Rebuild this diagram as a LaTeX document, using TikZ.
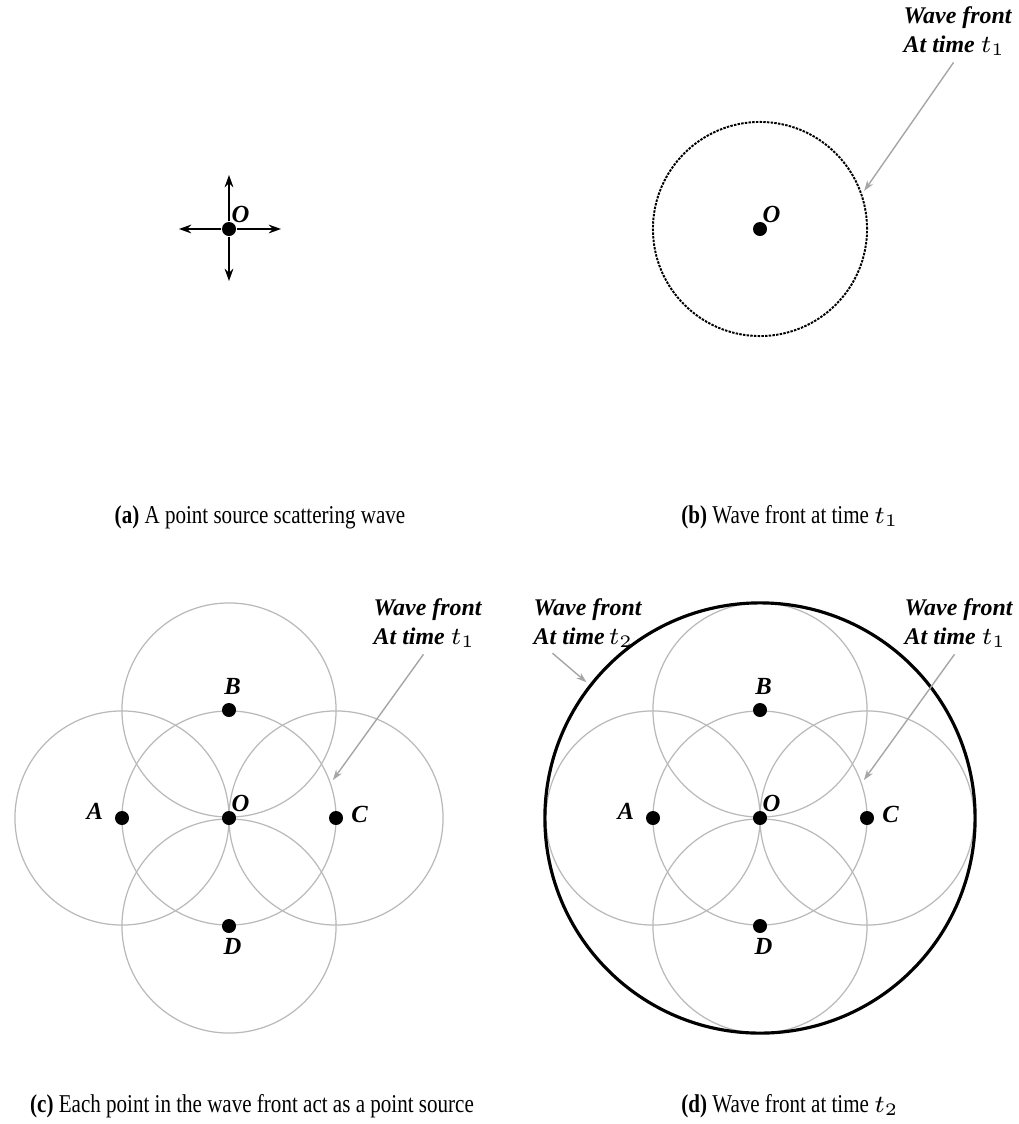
\documentclass[tikz,border=0pt]{standalone}
\usepackage{fontspec}
\setmainfont{Liberation Serif}
\newfontfamily\capfont[FakeStretch=0.82]{Liberation Serif}
\usetikzlibrary{positioning,arrows.meta}

\tikzset{
  point/.style={circle, fill=black, inner sep=0pt, minimum size=0.14cm},
  lettre/.style={font=\fontsize{7}{8}\selectfont\bfseries\itshape, inner sep=1pt},
  onde/.style={circle, draw=gray!55, line width=0.35pt, inner sep=0pt, minimum size=2.14cm},
  etiquette/.style={font=\fontsize{6.8}{8.2}\selectfont\bfseries\itshape, align=left, inner sep=0pt},
  fleche/.style={draw=gray!70, line width=0.4pt, -{Stealth[length=3pt,width=2pt]}, shorten <=2pt, shorten >=1pt},
  legende/.style={font=\capfont\fontsize{7.3}{8}\selectfont, inner sep=0pt}
}

\begin{document}
\begin{tikzpicture}[x=0.01cm, y=-0.01cm]
  \useasboundingbox (0,0) rectangle (1019,1124);

  % --- (a) source ponctuelle ---
  \node[point] (oa) at (229,229) {};
  \node[lettre, above right=-1pt and -2pt of oa] {O};
  \coordinate (ha) at (229,175);
  \coordinate (ba) at (229,281);
  \coordinate (ga) at (179,229);
  \coordinate (da) at (281,229);
  \foreach \bout in {ha,ba,ga,da}
    \draw[line width=0.5pt, -{Stealth[length=3.5pt,width=2.5pt]}] (oa) -- (\bout);
  \node[legende] (capa) at (260,517) {\textbf{(a)} A point source scattering wave};

  % --- (b) front d'onde au temps t1 ---
  \node[circle, draw, dash pattern=on 0.7pt off 0.35pt, line width=0.55pt, inner sep=0pt, minimum size=2.14cm] (frontb) at (760,229) {};
  \node[point] (ob) at (frontb.center) {};
  \node[lettre, above right=-1pt and -2pt of ob] {O};
  \node[etiquette, anchor=north west] (wfb) at (903,6) {Wave front\\At time $t_1$};
  \draw[fleche] (wfb.south) -- (frontb.19);
  \node[legende] (capb) at (790,517) {\textbf{(b)} Wave front at time $t_1$};

  % --- (c) chaque point est une source ---
  \coordinate (oc) at (229,818);
  \coordinate (ac) at (122,818);
  \coordinate (bc) at (229,710);
  \coordinate (cc) at (336,818);
  \coordinate (dc) at (229,926);
  \foreach \src in {oc,ac,bc,cc,dc}
    \node[onde] (f\src) at (\src) {};
  \foreach \src in {oc,ac,bc,cc,dc}
    \node[point] (p\src) at (\src) {};
  \node[lettre, above right=-1pt and -2pt of poc] {O};
  \node[lettre, left=2pt of pac, yshift=2pt] {A};
  \node[lettre, above=1pt of pbc, xshift=1pt] {B};
  \node[lettre, right=1pt of pcc, yshift=1pt] {C};
  \node[lettre, below=0pt of pdc, xshift=1pt] {D};
  \node[etiquette, anchor=north west] (wfc) at (373,598) {Wave front\\At time $t_1$};
  \draw[fleche] (wfc.south) -- (foc.19);
  \node[legende] (capc) at (252,1106) {\textbf{(c)} Each point in the wave front act as a point source};

  % --- (d) front d'onde au temps t2 ---
  \coordinate (od) at (760,818);
  \coordinate (ad) at (653,818);
  \coordinate (bd) at (760,710);
  \coordinate (cd) at (867,818);
  \coordinate (dd) at (760,926);
  \foreach \src in {od,ad,bd,cd,dd}
    \node[onde] (f\src) at (\src) {};
  \node[circle, draw, line width=0.9pt, inner sep=0pt, minimum size=4.3cm] (grand) at (od) {};
  \foreach \src in {od,ad,bd,cd,dd}
    \node[point] (p\src) at (\src) {};
  \node[lettre, above right=-1pt and -2pt of pod] {O};
  \node[lettre, left=2pt of pad, yshift=2pt] {A};
  \node[lettre, above=1pt of pbd, xshift=1pt] {B};
  \node[lettre, right=1pt of pcd, yshift=1pt] {C};
  \node[lettre, below=0pt of pdd, xshift=1pt] {D};
  \node[etiquette, anchor=north west] (wfd) at (904,598) {Wave front\\At time $t_1$};
  \draw[fleche] (wfd.south) -- (fod.19);
  \node[etiquette, anchor=north west] (wfe) at (533,598) {Wave front\\At time\,$t_2$};
  \draw[fleche] ([xshift=4pt]wfe.south west) -- (grand.142);
  \node[legende] (capd) at (790,1106) {\textbf{(d)} Wave front at time $t_2$};
\end{tikzpicture}
\end{document}
